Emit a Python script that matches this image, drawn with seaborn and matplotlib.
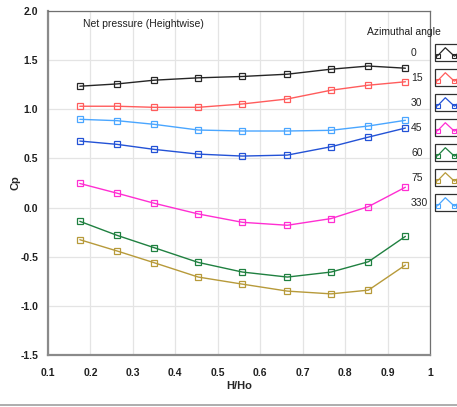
import seaborn as sns
import matplotlib.pyplot as plt
import pandas as pd
from matplotlib.legend_handler import HandlerBase
from matplotlib.lines import Line2D
from matplotlib.patches import Rectangle

# posicoes ao longo da altura (H/Ho)
h_ho = [0.175, 0.263, 0.350, 0.454, 0.558, 0.664, 0.767, 0.855, 0.942]

# Cp por angulo azimutal
angles = ['0', '15', '30', '45', '60', '75', '330']
cp_0 = [1.235, 1.258, 1.296, 1.320, 1.334, 1.357, 1.408, 1.440, 1.418]
cp_15 = [1.031, 1.031, 1.020, 1.020, 1.054, 1.105, 1.194, 1.245, 1.280]
cp_30 = [0.677, 0.643, 0.592, 0.544, 0.524, 0.534, 0.619, 0.717, 0.809]
cp_45 = [0.245, 0.146, 0.044, -0.065, -0.150, -0.180, -0.112, 0.010, 0.207]
cp_60 = [-0.140, -0.283, -0.408, -0.558, -0.656, -0.707, -0.656, -0.551, -0.293]
cp_75 = [-0.327, -0.442, -0.561, -0.707, -0.779, -0.850, -0.878, -0.840, -0.585]
cp_330 = [0.898, 0.884, 0.847, 0.789, 0.779, 0.779, 0.786, 0.830, 0.888]

cores = ['#262626', '#ff5c5c', '#2352d6', '#ff2ed2', '#1f8040', '#b79a3a', '#4aa6ff']

x_ticks = [0.1, 0.2, 0.3, 0.4, 0.5, 0.6, 0.7, 0.8, 0.9, 1.0]
x_labels = ['0.1', '0.2', '0.3', '0.4', '0.5', '0.6', '0.7', '0.8', '0.9', '1']
y_ticks = [2.0, 1.5, 1.0, 0.5, 0.0, -0.5, -1.0, -1.5]
y_labels = ['2.0', '1.5', '1.0', '0.5', '0.0', '-0.5', '-1.0', '-1.5']

series = [cp_0, cp_15, cp_30, cp_45, cp_60, cp_75, cp_330]
rows = []
for ang, vals in zip(angles, series):
  for x, v in zip(h_ho, vals):
    rows.append({'H/Ho': x, 'Cp': v, 'angle': ang})
df = pd.DataFrame(rows)


# icone da legenda: caixinha com um mini grafico
class BoxedIcon(HandlerBase):
  def create_artists(self, legend, orig_handle, xdescent, ydescent, width, height, fontsize, trans):
    c = orig_handle.get_color()
    x0, y0 = -xdescent, -ydescent
    rect = Rectangle((x0, y0), width, height, fill=False, ec='#303030', lw=0.9, transform=trans)
    xs = [x0 + width * f for f in (0.08, 0.33, 0.62, 0.95)]
    ys = [y0 + height * f for f in (0.3, 0.78, 0.28, 0.75)]
    ln = Line2D(xs, ys, color=c, lw=0.9, transform=trans)
    mk = Line2D([xs[0], xs[2]], [ys[0], ys[2]], ls='none', marker='s', ms=3, mfc='none', mec=c, mew=0.8, transform=trans)
    return [rect, ln, mk]


sns.set_style('whitegrid')
plt.rcParams['font.family'] = ['Liberation Sans', 'DejaVu Sans']

fig = plt.figure(figsize=(4.57, 4.07), dpi=100)
ax = fig.add_axes([48 / 457, 1 - 355 / 407, 382 / 457, 344 / 407])

for ang, cor in zip(angles, cores):
  sub = df[df['angle'] == ang]
  sns.lineplot(data=sub, x='H/Ho', y='Cp', color=cor, lw=1.0, marker='s', ms=4,
               mfc='none', mec=cor, mew=0.9, sort=False, legend=False, ax=ax)

ax.set_xlim(0.1, 1.0)
ax.set_ylim(-1.5, 2.0)
ax.set_xticks(x_ticks)
ax.set_xticklabels(x_labels)
ax.set_yticks(y_ticks)
ax.set_yticklabels(y_labels)
ax.grid(True, color='#e4e4e4', lw=0.9)
ax.tick_params(axis='both', labelsize=7.5, colors='#202020', length=4, width=0.9, direction='out')
ax.tick_params(axis='both', color='#404040')
ax.tick_params(axis='x', pad=5)
ax.tick_params(axis='y', pad=3)
for lab in ax.get_xticklabels() + ax.get_yticklabels():
  lab.set_fontweight('bold')

for s in ['left', 'bottom']:
  ax.spines[s].set_color('#8a8a8a')
  ax.spines[s].set_linewidth(1.6)
for s in ['top', 'right']:
  ax.spines[s].set_color('#707070')
  ax.spines[s].set_linewidth(0.9)

ax.set_xlabel('H/Ho', fontsize=8, fontweight='bold')
ax.xaxis.set_label_coords(0.5, -(381 - 355) / 344)
ax.set_ylabel('Cp', fontsize=8, fontweight='bold')
ax.yaxis.set_label_coords(-(48 - 21) / 382, 0.5)

ax.text(0.092, 0.962, 'Net pressure (Heightwise)', transform=ax.transAxes,
        fontsize=7.5, va='center', ha='left', color='#202020')
ax.text(0.835, 0.94, 'Azimuthal angle', transform=ax.transAxes,
        fontsize=7.5, va='center', ha='left', color='#202020', clip_on=False)

# legenda em duas partes: rotulos alinhados a esquerda e caixinhas
leg_kw = dict(loc='upper left', frameon=False, fontsize=7.5, borderpad=0, borderaxespad=0,
              handleheight=2.13, labelspacing=0.77)
dummy = [Line2D([], [], color='none') for c in cores]
leg1 = fig.legend(dummy, angles, bbox_to_anchor=(411 / 457, 1 - 44 / 407),
                  handlelength=0, handletextpad=0, **leg_kw)
handles = [Line2D([], [], color=c) for c in cores]
leg2 = fig.legend(handles, [''] * len(angles), bbox_to_anchor=(435 / 457, 1 - 44 / 407),
                  handlelength=3.0, handletextpad=0, handler_map={Line2D: BoxedIcon()}, **leg_kw)

fig.add_artist(Line2D([0, 1], [2 / 407, 2 / 407], color='#a0a0a0', lw=1.2, transform=fig.transFigure))

plt.savefig('out.png', dpi=100)
